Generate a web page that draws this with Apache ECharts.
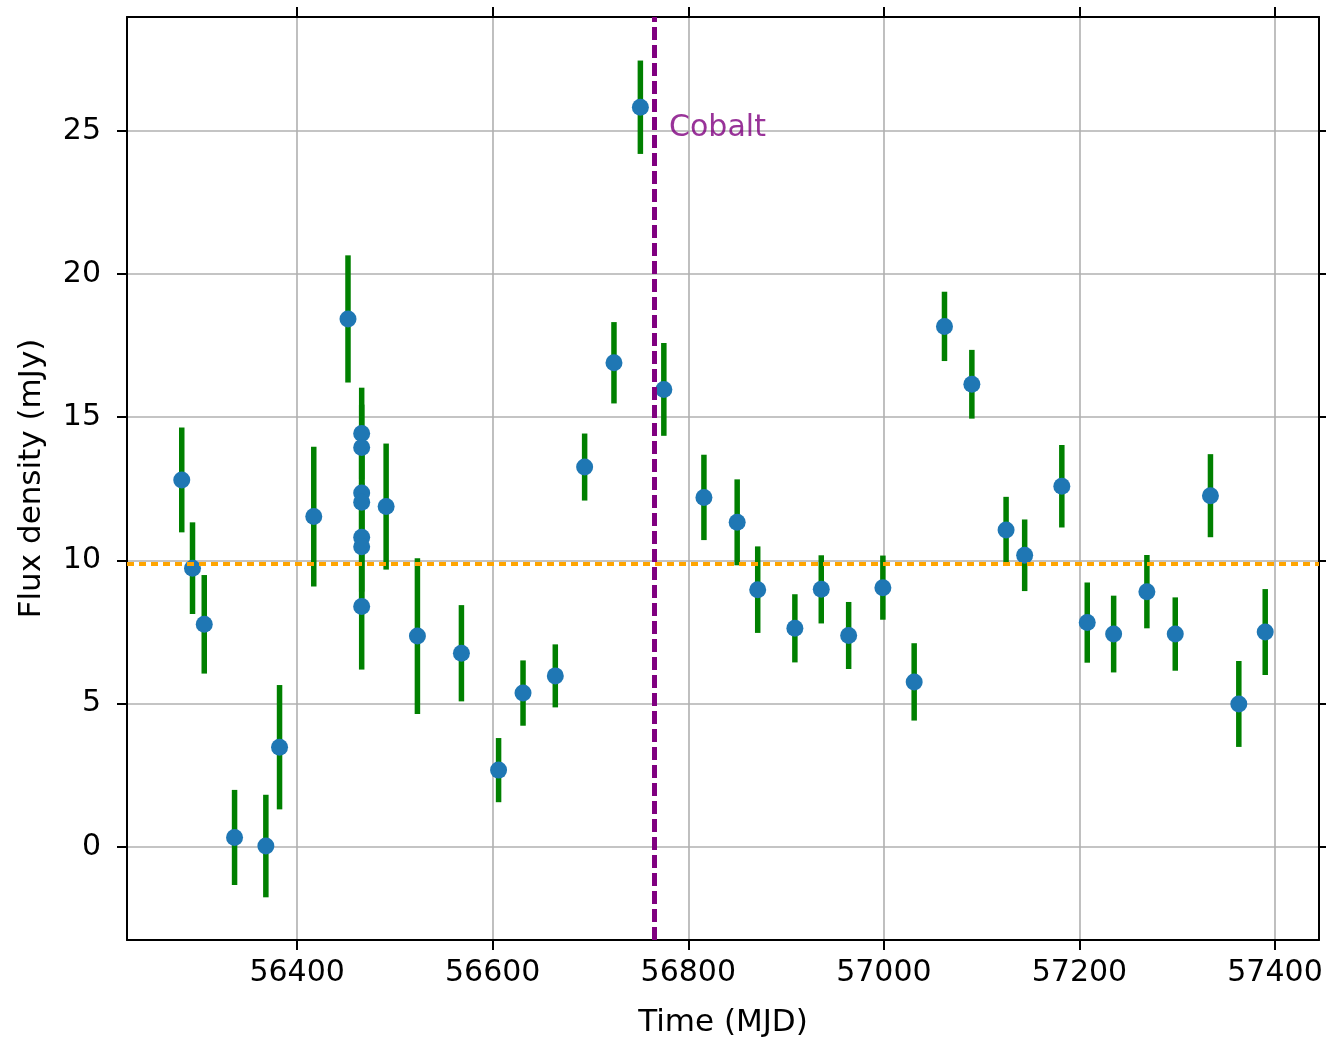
<!DOCTYPE html>
<html>
<head>
<meta charset="utf-8">
<script src="https://cdn.jsdelivr.net/npm/echarts@6/dist/echarts.min.js"></script>
<style>
html,body{margin:0;padding:0;background:#fff;}
#chart{width:1326px;height:1043px;}
</style>
</head>
<body>
<div id="chart"></div>
<script>
// Observation times (MJD)
const times = [56282, 56293, 56305, 56336, 56368, 56382, 56417, 56452,
  56466, 56466, 56466, 56466, 56466, 56466, 56466,
  56491, 56523, 56568, 56606, 56631, 56664, 56694, 56724, 56751, 56775,
  56816, 56850, 56871, 56909, 56936, 56964, 56999, 57031, 57062, 57090,
  57125, 57144, 57182, 57208, 57235, 57269, 57298, 57334, 57363, 57390];
// Flux density (mJy)
const flux = [12.81, 9.73, 7.77, 0.33, 0.03, 3.48, 11.53, 18.43,
  14.43, 13.94, 12.35, 12.03, 10.81, 10.48, 8.39,
  11.88, 7.36, 6.76, 2.68, 5.37, 5.97, 13.26, 16.9, 25.82, 15.97,
  12.2, 11.33, 8.98, 7.63, 8.99, 7.38, 9.05, 5.76, 18.17, 16.15,
  11.06, 10.18, 12.59, 7.83, 7.43, 8.91, 7.43, 12.26, 4.99, 7.5];
// Flux uncertainty (mJy)
const fluxErr = [1.83, 1.6, 1.72, 1.66, 1.79, 2.17, 2.44, 2.22,
  1.6, 1.5, 1.6, 1.7, 1.9, 1.8, 2.2,
  2.2, 2.72, 1.68, 1.12, 1.14, 1.1, 1.17, 1.42, 1.63, 1.62,
  1.49, 1.5, 1.51, 1.19, 1.19, 1.17, 1.12, 1.35, 1.21, 1.2,
  1.16, 1.25, 1.44, 1.4, 1.34, 1.28, 1.28, 1.45, 1.5, 1.5];
const meanFlux = 9.9;
const cobaltTime = 56765;
const cobaltLabelY = 25.1;
const cobaltLabel = 'Cobalt';
const xTicks = [56400, 56600, 56800, 57000, 57200, 57400];
const yTicks = [0, 5, 10, 15, 20, 25];
const xRange = [56226, 57445];
const yRange = [-3.25, 28.97];

const FONT = 'DejaVu Sans';
const points = times.map((t, i) => [t, flux[i], fluxErr[i]]);

const chart = echarts.init(document.getElementById('chart'), null, {renderer: 'canvas'});

function mkX(pos, main) {
  return {
    type: 'value', position: pos, min: xRange[0], max: xRange[1],
    name: main ? 'Time (MJD)' : '', nameLocation: 'middle', nameGap: 67,
    nameTextStyle: {fontFamily: FONT, fontSize: 31, color: '#000'},
    axisLine: {show: true, onZero: false, lineStyle: {color: '#000', width: 2}},
    axisTick: {show: true, length: 10, customValues: xTicks, lineStyle: {color: '#000', width: 2}},
    axisLabel: {show: main, customValues: xTicks, margin: 18, fontFamily: FONT, fontSize: 30, color: '#000',
      formatter: v => String(v)},
    splitLine: {show: main, lineStyle: {color: '#b0b0b0', width: 1.6}}
  };
}
function mkY(pos, main) {
  return {
    type: 'value', position: pos, min: yRange[0], max: yRange[1],
    name: main ? 'Flux density (mJy)' : '', nameLocation: 'middle', nameGap: 80,
    nameTextStyle: {fontFamily: FONT, fontSize: 31, color: '#000'},
    axisLine: {show: true, onZero: false, lineStyle: {color: '#000', width: 2}},
    axisTick: {show: true, length: 10, customValues: yTicks, lineStyle: {color: '#000', width: 2}},
    axisLabel: {show: main, customValues: yTicks, margin: 26, fontFamily: FONT, fontSize: 30, color: '#000',
      formatter: v => String(v)},
    splitLine: {show: main, lineStyle: {color: '#b0b0b0', width: 1.6}}
  };
}

const option = {
  animation: false,
  backgroundColor: '#fff',
  grid: {left: 127, right: 7, top: 17, bottom: 103, containLabel: false},
  xAxis: [mkX('bottom', true), mkX('top', false)],
  yAxis: [mkY('left', true), mkY('right', false)],
  series: [
    {
      type: 'custom', z: 2,
      data: points,
      encode: {x: 0, y: 1},
      renderItem: function (params, api) {
        const x = api.value(0), y = api.value(1), e = api.value(2);
        const p1 = api.coord([x, y - e]);
        const p2 = api.coord([x, y + e]);
        return {type: 'line', shape: {x1: p1[0], y1: p1[1], x2: p2[0], y2: p2[1]},
          style: {stroke: '#008000', lineWidth: 5.5}};
      }
    },
    {
      type: 'scatter', z: 3, data: [], silent: true,
      markLine: {
        silent: true, symbol: 'none', label: {show: false},
        lineStyle: {color: '#ffa500', width: 4, type: [7, 5]},
        data: [{yAxis: meanFlux}]
      }
    },
    {
      type: 'scatter', z: 4,
      data: points.map(p => [p[0], p[1]]),
      symbol: 'circle', symbolSize: 17,
      itemStyle: {color: '#1f77b4', opacity: 1}
    },
    {
      type: 'scatter', z: 5, silent: true,
      data: [[cobaltTime, cobaltLabelY]],
      symbolSize: 0, itemStyle: {color: 'rgba(0,0,0,0)'},
      label: {show: true, position: 'right', distance: 15, formatter: cobaltLabel,
        fontFamily: FONT, fontSize: 30, color: '#800080'},
      markLine: {
        silent: true, symbol: 'none', label: {show: false},
        lineStyle: {color: '#800080', width: 5, type: [13, 5]},
        data: [{xAxis: cobaltTime}]
      }
    }
  ]
};
chart.setOption(option);
</script>
</body>
</html>
